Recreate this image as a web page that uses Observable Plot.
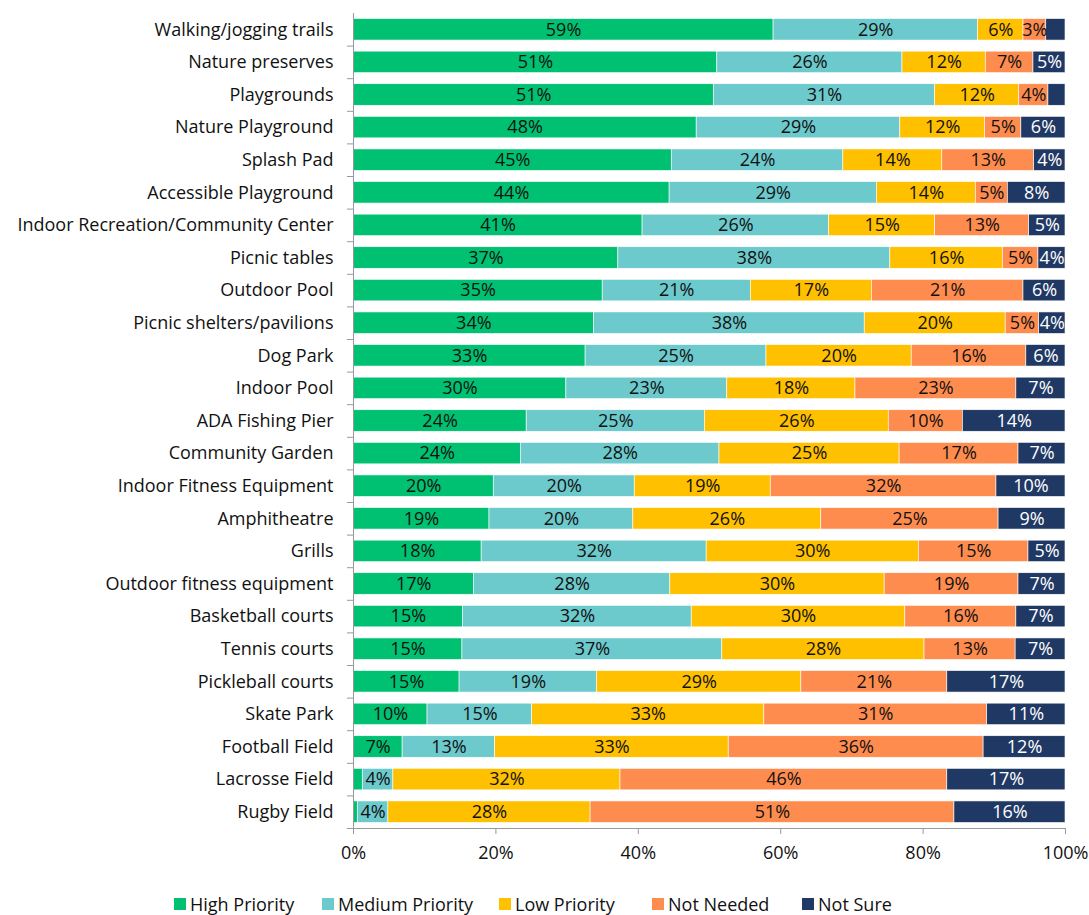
<!DOCTYPE html>
<html>
<head>
<meta charset="utf-8">
<script src="https://cdn.jsdelivr.net/npm/d3@7"></script>
<script src="https://cdn.jsdelivr.net/npm/@observablehq/plot@0.6"></script>
<style>
  body { margin: 0; background: #fff; font-family: "Open Sans", Lato, sans-serif; }
  #chart svg { display: block; }
  #legend { position: relative; height: 35px; font-size: 18px; color: #111; }
  #legend .item { position: absolute; top: 12px; display: flex; align-items: center; white-space: nowrap; }
  #legend .sw { width: 12px; height: 12px; margin-right: 4px; }
</style>
</head>
<body>
<div id="chart"></div>
<div id="legend"></div>
<script>
const items = [
  "Walking/jogging trails", "Nature preserves", "Playgrounds", "Nature Playground",
  "Splash Pad", "Accessible Playground", "Indoor Recreation/Community Center",
  "Picnic tables", "Outdoor Pool", "Picnic shelters/pavilions", "Dog Park",
  "Indoor Pool", "ADA Fishing Pier", "Community Garden", "Indoor Fitness Equipment",
  "Amphitheatre", "Grills", "Outdoor fitness equipment", "Basketball courts",
  "Tennis courts", "Pickleball courts", "Skate Park", "Football Field",
  "Lacrosse Field", "Rugby Field"
];
const categories = ["High Priority", "Medium Priority", "Low Priority", "Not Needed", "Not Sure"];
const colors = ["#00C171", "#6CC9CC", "#FFC000", "#FF8C4F", "#203864"];

const highPriority   = [59.0, 51.1, 50.6, 48.2, 44.7, 44.4, 40.6, 37.2, 35.0, 33.8, 32.6, 29.9, 24.3, 23.5, 19.7, 19.1, 18.0, 16.9, 15.4, 15.3, 14.9, 10.4, 6.9, 1.3, 0.6];
const mediumPriority = [28.7, 26.0, 31.1, 28.6, 24.1, 29.1, 26.2, 38.2, 20.8, 38.0, 25.4, 22.6, 25.0, 27.9, 19.8, 20.2, 31.6, 27.6, 32.1, 36.5, 19.3, 14.7, 13.0, 4.3, 4.3];
const lowPriority    = [6.4, 11.7, 11.8, 11.9, 13.9, 13.9, 14.9, 15.8, 17.0, 19.8, 20.4, 18.0, 25.8, 25.3, 19.1, 26.4, 29.8, 30.1, 30.0, 28.4, 28.7, 32.6, 32.8, 31.9, 28.4];
const notNeeded      = [3.2, 6.7, 4.1, 5.1, 12.9, 4.5, 13.2, 5.0, 21.3, 4.7, 16.1, 22.6, 10.4, 16.7, 31.7, 24.9, 15.4, 18.8, 15.6, 12.8, 20.5, 31.3, 35.8, 45.9, 51.1];
const notSure        = [2.7, 4.5, 2.4, 6.2, 4.4, 8.1, 5.1, 3.8, 5.9, 3.7, 5.5, 6.9, 14.4, 6.6, 9.7, 9.4, 5.2, 6.6, 6.9, 7.0, 16.6, 11.0, 11.5, 16.6, 15.6];

const xTicks = [0, 0.2, 0.4, 0.6, 0.8, 1];

const series = [highPriority, mediumPriority, lowPriority, notNeeded, notSure];
const data = [];
items.forEach((item, i) => {
  categories.forEach((cat, j) => {
    data.push({item, cat, value: series[j][i]});
  });
});

const label = d => d.value >= 3 ? Math.round(d.value) + "%" : null;

const width = 1089, height = 880;
const marginTop = 13, marginBottom = 52, marginLeft = 353, marginRight = 24;
const step = (height - marginTop - marginBottom) / items.length;
const font = "'Open Sans', Lato, sans-serif";

const chart = Plot.plot({
  width, height, marginTop, marginBottom, marginLeft, marginRight,
  style: {fontFamily: font, fontSize: "18px", color: "#111"},
  x: {domain: [0, 1], ticks: xTicks, label: null},
  y: {domain: items, paddingInner: 0.34, paddingOuter: 0.17, round: false, label: null},
  color: {domain: categories, range: colors},
  marks: [
    Plot.barX(data, Plot.stackX({x: "value", y: "item", fill: "cat", offset: "normalize", order: null, stroke: "white", strokeWidth: 0.6})),
    Plot.text(data, Plot.stackX({x: "value", y: "item", z: "cat", offset: "normalize", order: null,
      text: d => d.cat !== "Not Sure" ? label(d) : null, fill: "#111", fontSize: 18})),
    Plot.text(data, Plot.stackX({x: "value", y: "item", z: "cat", offset: "normalize", order: null,
      text: d => d.cat === "Not Sure" ? label(d) : null, fill: "white", fontSize: 18})),
    Plot.ruleX([0], {stroke: "#999"}),
    Plot.frame({anchor: "bottom", stroke: "#999"}),
    Plot.axisX({ticks: xTicks, tickFormat: d3.format(".0%"), tickSize: 6, tickPadding: 12, stroke: "#999", fontSize: 18, fill: "#111", label: null}),
    Plot.axisY({tickSize: 0, tickPadding: 20, fontSize: 18, fill: "#111", label: null}),
    Plot.axisY({tickSize: 6, tickFormat: () => "", dy: step / 2, stroke: "#999", label: null})
  ]
});
document.getElementById("chart").appendChild(chart);

const legendX = [174, 322, 499, 652, 802];
const legend = document.getElementById("legend");
categories.forEach((c, i) => {
  const it = document.createElement("div");
  it.className = "item";
  it.style.left = legendX[i] + "px";
  it.innerHTML = `<span class="sw" style="background:${colors[i]}"></span><span>${c}</span>`;
  legend.appendChild(it);
});
</script>
</body>
</html>
